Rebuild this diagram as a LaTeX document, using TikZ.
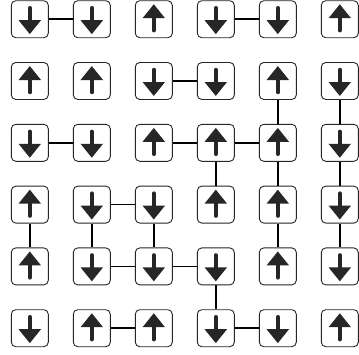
\documentclass[tikz,border=0pt]{standalone}
\usetikzlibrary{arrows.meta}

\begin{document}
\begin{tikzpicture}[
		x=1pt, y=1pt,
		cell/.style={rectangle, draw=black!85, rounded corners=4.5pt, minimum width=37pt, minimum height=37pt, line width=0.9pt, inner sep=0pt},
		spin/.style={line width=3.8pt, line cap=round, -{Triangle[width=21.5pt, length=14pt]}},
		spinU/.style={cell, path picture={\draw[spin] ([yshift=7.2pt]path picture bounding box.south) -- ([yshift=-3.5pt]path picture bounding box.north);}},
		spinD/.style={cell, path picture={\draw[spin] ([yshift=-7.2pt]path picture bounding box.north) -- ([yshift=3.5pt]path picture bounding box.south);}},
		bond/.style={line width=1.6pt}
		]
		% Canvas
		\fill[white] (0,0) rectangle (359,-354);
		\useasboundingbox (0,0) rectangle (359,-354);
		
		% Spins
		\foreach \row [count=\r] in {{D,D,U,D,D,U},{U,U,D,D,U,D},{D,D,U,U,U,D},{U,D,D,U,U,D},{U,D,D,D,U,D},{D,U,U,D,D,U}} {
			\foreach \s [count=\c] in \row {
				\node (s\r\c) [spin\s] at ({29.8+62*(\c-1)}, {-19.2-61.8*(\r-1)}) {};
			}
		}
		
		% Horizontal bonds
		\draw [bond] (s11) -- (s12);
		\draw [bond] (s14) -- (s15);
		\draw [bond] (s23) -- (s24);
		\draw [bond] (s31) -- (s32);
		\draw [bond] (s33) -- (s34);
		\draw [bond] (s34) -- (s35);
		\draw [bond] (s42) -- (s43);
		\draw [bond] (s52) -- (s53);
		\draw [bond] (s53) -- (s54);
		\draw [bond] (s62) -- (s63);
		\draw [bond] (s64) -- (s65);
		
		% Vertical bonds
		\draw [bond] (s25) -- (s35);
		\draw [bond] (s26) -- (s36);
		\draw [bond] (s34) -- (s44);
		\draw [bond] (s35) -- (s45);
		\draw [bond] (s36) -- (s46);
		\draw [bond] (s41) -- (s51);
		\draw [bond] (s42) -- (s52);
		\draw [bond] (s43) -- (s53);
		\draw [bond] (s45) -- (s55);
		\draw [bond] (s46) -- (s56);
		\draw [bond] (s54) -- (s64);
		
	\end{tikzpicture}
\end{document}
